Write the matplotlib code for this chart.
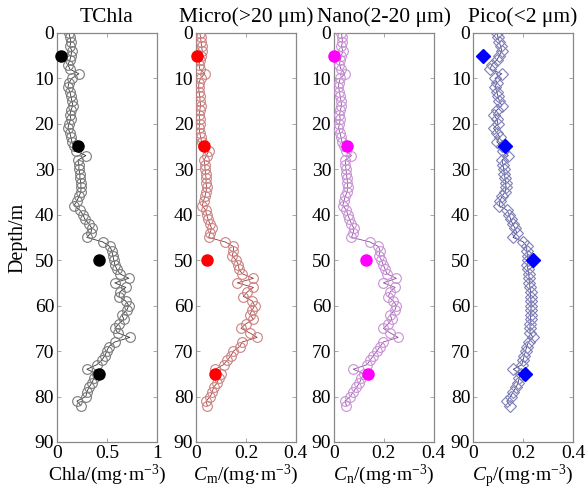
import matplotlib
matplotlib.use("Agg")
import matplotlib.pyplot as plt

plt.rcParams["font.family"] = ["Liberation Serif", "DejaVu Serif"]
plt.rcParams["mathtext.fontset"] = "custom"
plt.rcParams["mathtext.rm"] = "Liberation Serif"
plt.rcParams["mathtext.it"] = "Liberation Serif:italic"

# profile depth grid (m)
depth = [0, 1, 2, 3, 4, 5, 6, 7, 8, 9, 10, 11, 12, 13, 14, 15, 16, 17, 18, 19,
         20, 21, 22, 23, 24, 25, 26, 27, 28, 29, 30, 31, 32, 33, 34, 35, 36, 37, 38, 39,
         40, 41, 42, 43, 44, 45, 46, 47, 48, 49, 50, 51, 52, 53, 54, 55, 56, 57, 58, 59,
         60, 61, 62, 63, 64, 65, 66, 67, 68, 69, 70, 71, 72, 73, 74, 75, 76, 77, 78, 79,
         80, 81, 82]

tchla = [0.12, 0.13, 0.14, 0.13, 0.15, 0.14, 0.13, 0.11, 0.13, 0.22,
         0.15, 0.12, 0.11, 0.13, 0.14, 0.15, 0.16, 0.14, 0.13, 0.14,
         0.12, 0.11, 0.13, 0.14, 0.15, 0.17, 0.19, 0.29, 0.21, 0.22,
         0.22, 0.23, 0.23, 0.24, 0.24, 0.24, 0.22, 0.20, 0.17, 0.23,
         0.26, 0.28, 0.32, 0.35, 0.34, 0.30, 0.46, 0.53, 0.55, 0.56,
         0.57, 0.58, 0.60, 0.63, 0.72, 0.58, 0.69, 0.63, 0.62, 0.69,
         0.72, 0.70, 0.65, 0.67, 0.62, 0.58, 0.61, 0.73, 0.58, 0.52,
         0.50, 0.48, 0.45, 0.40, 0.30, 0.40, 0.37, 0.35, 0.32, 0.30,
         0.29, 0.20, 0.24]

micro = [0.015, 0.018, 0.020, 0.022, 0.025, 0.020, 0.015, 0.012, 0.015, 0.035,
         0.018, 0.012, 0.010, 0.012, 0.015, 0.016, 0.018, 0.015, 0.012, 0.015,
         0.014, 0.012, 0.015, 0.018, 0.022, 0.028, 0.050, 0.042, 0.032, 0.035,
         0.036, 0.038, 0.040, 0.040, 0.042, 0.040, 0.035, 0.030, 0.025, 0.038,
         0.042, 0.048, 0.055, 0.062, 0.057, 0.050, 0.117, 0.150, 0.150, 0.145,
         0.160, 0.170, 0.172, 0.185, 0.230, 0.165, 0.230, 0.205, 0.190, 0.225,
         0.235, 0.225, 0.215, 0.230, 0.200, 0.180, 0.215, 0.245, 0.185, 0.175,
         0.150, 0.140, 0.125, 0.110, 0.077, 0.100, 0.090, 0.085, 0.070, 0.065,
         0.057, 0.040, 0.045]

nano = [0.030, 0.032, 0.034, 0.030, 0.035, 0.030, 0.025, 0.022, 0.028, 0.044,
        0.025, 0.020, 0.018, 0.022, 0.025, 0.028, 0.030, 0.026, 0.022, 0.025,
        0.022, 0.018, 0.024, 0.028, 0.032, 0.040, 0.048, 0.070, 0.045, 0.046,
        0.048, 0.050, 0.052, 0.054, 0.055, 0.052, 0.045, 0.040, 0.035, 0.050,
        0.055, 0.062, 0.070, 0.080, 0.077, 0.070, 0.144, 0.178, 0.185, 0.180,
        0.190, 0.197, 0.205, 0.212, 0.250, 0.198, 0.245, 0.225, 0.218, 0.238,
        0.250, 0.244, 0.225, 0.232, 0.218, 0.198, 0.225, 0.257, 0.198, 0.185,
        0.172, 0.158, 0.145, 0.132, 0.077, 0.120, 0.110, 0.102, 0.090, 0.077,
        0.065, 0.044, 0.050]

pico = [0.095, 0.100, 0.105, 0.110, 0.115, 0.105, 0.095, 0.075, 0.068, 0.115,
        0.088, 0.095, 0.088, 0.095, 0.100, 0.105, 0.115, 0.095, 0.082, 0.095,
        0.100, 0.082, 0.095, 0.108, 0.095, 0.115, 0.120, 0.141, 0.115, 0.120,
        0.122, 0.125, 0.128, 0.130, 0.132, 0.128, 0.115, 0.108, 0.105, 0.135,
        0.145, 0.150, 0.158, 0.168, 0.175, 0.160, 0.201, 0.215, 0.215, 0.218,
        0.220, 0.215, 0.220, 0.222, 0.225, 0.225, 0.228, 0.230, 0.230, 0.232,
        0.232, 0.232, 0.230, 0.230, 0.228, 0.228, 0.228, 0.240, 0.222, 0.215,
        0.210, 0.205, 0.200, 0.195, 0.161, 0.190, 0.185, 0.180, 0.172, 0.160,
        0.150, 0.135, 0.148]

# discrete bottle samples
sample_depth = [5, 25, 50, 75]
tchla_s = [0.04, 0.21, 0.42, 0.42]
micro_s = [0.002, 0.031, 0.044, 0.075]
nano_s = [0.001, 0.051, 0.130, 0.137]
pico_s = [0.039, 0.128, 0.241, 0.208]

titles = ["TChla", "Micro(>20 \u03bcm)", "Nano(2-20 \u03bcm)", "Pico(<2 \u03bcm)"]
xlabels = ["Chla/(mg\u00b7m$^{-3}$)", "$C_\\mathrm{m}$/(mg\u00b7m$^{-3}$)",
           "$C_\\mathrm{n}$/(mg\u00b7m$^{-3}$)", "$C_\\mathrm{p}$/(mg\u00b7m$^{-3}$)"]

panels = [
    (tchla, tchla_s, "#7a7a7a", "#333333", "black", "o", (0, 1), [0, 0.5, 1], ["0", "0.5", "1"]),
    (micro, micro_s, "#cc8282", "#9a3a3a", "red", "o", (0, 0.4), [0, 0.2, 0.4], ["0", "0.2", "0.4"]),
    (nano, nano_s, "#c892d4", "#8a4a9a", "magenta", "o", (0, 0.4), [0, 0.2, 0.4], ["0", "0.2", "0.4"]),
    (pico, pico_s, "#8080b8", "#3a3a80", "blue", "D", (0, 0.4), [0, 0.2, 0.4], ["0", "0.2", "0.4"]),
]

fig = plt.figure(figsize=(5.87, 4.9), dpi=100)
lefts = [0.097, 0.334, 0.569, 0.806]

for i, (prof, samp, edge, line, fill, mk, xlim, xt, xtl) in enumerate(panels):
    ax = fig.add_axes([lefts[i], 0.098, 0.170, 0.835])
    ax.plot(prof, depth, "-", color=line, lw=0.6, zorder=2)
    if mk == "D":
        ax.plot(prof, depth, "D", mfc="none", mec=edge, ms=6, mew=0.8, zorder=3)
        ax.plot(samp, sample_depth, "D", color=fill, ms=7, zorder=4, clip_on=False)
    else:
        ax.plot(prof, depth, "o", mfc="none", mec=edge, ms=7, mew=0.8, zorder=3)
        ax.plot(samp, sample_depth, "o", color=fill, ms=8, zorder=4, clip_on=False)
    ax.set_xlim(*xlim)
    ax.set_ylim(90, 0)
    ax.set_xticks(xt)
    ax.set_xticklabels(xtl)
    ax.set_yticks(range(0, 91, 10))
    ax.tick_params(direction="in", top=True, right=True, length=3, width=0.6,
                   color="#999999", labelsize=14, pad=2)
    for s in ax.spines.values():
        s.set_color("#888888")
        s.set_linewidth(0.9)
    ax.set_title(titles[i], fontsize=15.5, pad=8)
    ax.set_xlabel(xlabels[i], fontsize=14, labelpad=1)
    if i == 0:
        ax.set_ylabel("Depth/m", fontsize=14.5, labelpad=5)

fig.savefig("out.png", dpi=100)
